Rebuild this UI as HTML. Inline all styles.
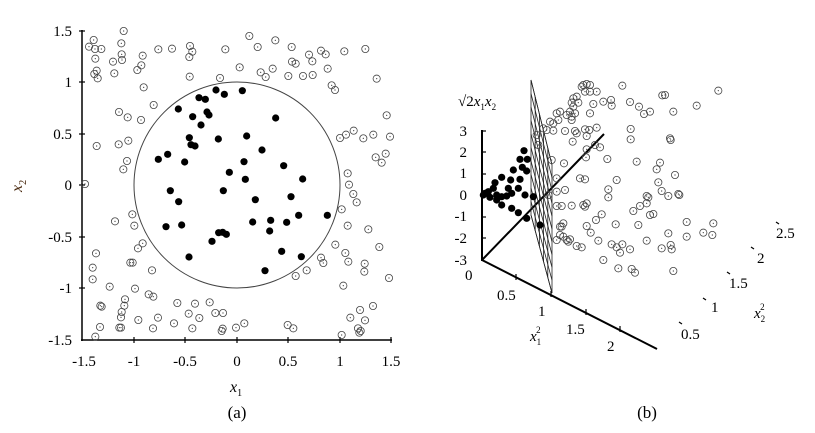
<!DOCTYPE html>
<html><head><meta charset="utf-8"><style>
body{margin:0;background:#fff}
svg{display:block;font-family:"Liberation Serif",serif}
</style></head><body>
<svg id="s" width="815" height="433" viewBox="0 0 815 433" xmlns="http://www.w3.org/2000/svg">
<g stroke="#000" stroke-width="1.5" fill="none">
<line x1="82" y1="30" x2="82" y2="341"/>
<line x1="81" y1="340" x2="392" y2="340"/>
</g>
<g stroke="#000" stroke-width="1.2">
<line x1="79" y1="31" x2="85" y2="31"/><line x1="79" y1="82" x2="85" y2="82"/><line x1="79" y1="134" x2="85" y2="134"/><line x1="79" y1="185" x2="85" y2="185"/><line x1="79" y1="237" x2="85" y2="237"/><line x1="79" y1="288" x2="85" y2="288"/>
<line x1="134" y1="337" x2="134" y2="343"/><line x1="185" y1="337" x2="185" y2="343"/><line x1="237" y1="337" x2="237" y2="343"/><line x1="288" y1="337" x2="288" y2="343"/><line x1="340" y1="337" x2="340" y2="343"/><line x1="391" y1="337" x2="391" y2="343"/>
</g>
<circle cx="237" cy="185" r="103" fill="none" stroke="#444" stroke-width="1"/>
<g font-size="15" text-anchor="end">
<text x="72" y="36">1.5</text><text x="72" y="87">1</text><text x="72" y="139">0.5</text><text x="72" y="190">0</text><text x="72" y="242">-0.5</text><text x="72" y="293">-1</text><text x="72" y="345">-1.5</text>
</g>
<g font-size="15" text-anchor="middle">
<text x="84" y="366">-1.5</text><text x="134" y="366">-1</text><text x="185" y="366">-0.5</text><text x="237" y="366">0</text><text x="288" y="366">0.5</text><text x="340" y="366">1</text><text x="391" y="366">1.5</text>
<text x="237" y="418" font-size="17">(a)</text>
<text x="647" y="418" font-size="17">(b)</text>
</g>
<text x="230" y="392" font-size="16" font-style="italic">x<tspan font-size="10" font-style="normal" dy="4">1</tspan></text>
<text transform="translate(22,192) rotate(-90)" font-size="16" font-style="italic" fill="#4a2a10">x<tspan font-size="10" font-style="normal" dy="4">2</tspan></text>

<!-- panel b axes -->
<g stroke="#000" stroke-width="2" fill="none">
<line x1="482" y1="130" x2="482" y2="261"/>
<line x1="482" y1="260" x2="604" y2="134"/>
<line x1="482" y1="260" x2="657" y2="349"/>
</g>
<g stroke="#000" stroke-width="1.2">
<line x1="482" y1="131" x2="486" y2="131"/><line x1="482" y1="152" x2="486" y2="152"/><line x1="482" y1="174" x2="486" y2="174"/><line x1="482" y1="195" x2="486" y2="195"/><line x1="482" y1="217" x2="486" y2="217"/><line x1="482" y1="238" x2="486" y2="238"/>
<line x1="516" y1="274" x2="516" y2="280"/><line x1="551" y1="291" x2="551" y2="297"/><line x1="586" y1="309" x2="586" y2="315"/><line x1="620" y1="326" x2="620" y2="332"/>
<line x1="679" y1="322" x2="682" y2="324"/><line x1="703" y1="298" x2="706" y2="300"/><line x1="727" y1="272" x2="730" y2="274"/><line x1="751" y1="247" x2="754" y2="249"/><line x1="776" y1="222" x2="779" y2="224"/>
</g>
<g id="plane" stroke="#222" stroke-width="0.8" fill="none"></g>
<g font-size="15" text-anchor="end">
<text x="467" y="136">3</text><text x="467" y="157">2</text><text x="467" y="178">1</text><text x="467" y="200">0</text><text x="467" y="221">-1</text><text x="467" y="243">-2</text><text x="467" y="265">-3</text>
</g>
<g font-size="15">
<text x="465" y="280">0</text><text x="497" y="300">0.5</text><text x="538" y="316">1</text><text x="566" y="334">1.5</text><text x="607" y="351">2</text>
<text x="681" y="339">0.5</text><text x="711" y="312">1</text><text x="729" y="288">1.5</text><text x="757" y="263">2</text><text x="776" y="238">2.5</text>
</g>
<text x="530" y="341" font-size="15" font-style="italic">x<tspan font-size="9" font-style="normal" dy="4">1</tspan><tspan font-size="9" font-style="normal" dx="-5" dy="-12">2</tspan></text>
<text x="754" y="318" font-size="15" font-style="italic">x<tspan font-size="9" font-style="normal" dy="4">2</tspan><tspan font-size="9" font-style="normal" dx="-5" dy="-12">2</tspan></text>
<text x="458" y="106" font-size="15">√2<tspan font-style="italic">x</tspan><tspan font-size="9" dy="4">1</tspan><tspan font-style="italic" dy="-4">x</tspan><tspan font-size="9" dy="4">2</tspan></text>
<g id="pts"></g>
</svg>
<script>
var NS="http://www.w3.org/2000/svg",g=document.getElementById('pts'),pl=document.getElementById('plane');
function el(n,a,p){var e=document.createElementNS(NS,n);for(var k in a)e.setAttribute(k,a[k]);(p||g).appendChild(e);return e;}
function open(x,y){el('circle',{cx:x,cy:y,r:3.6,fill:'none',stroke:'#444','stroke-width':0.8});el('circle',{cx:x,cy:y,r:0.6,fill:'#333'});}
function fill(x,y){el('circle',{cx:x,cy:y,r:3.6,fill:'#000'});}
var fa=[648,270,727,272,673,283,597,293,616,298,535,327,621,336,627,345,578,350,827,354,603,375,568,413,740,408,655,417,573,434,585,438,786,450,503,463,475,478,554,486,851,497,732,485,688,517,736,538,908,537,511,572,670,572,766,599,536,605,873,590,896,646,982,646,758,666,812,661,860,667,545,675,498,680,656,698,668,697,679,703,809,693,636,724,845,754,567,771,904,770,795,812];
var oa=[371,93,281,120,748,108,826,121,267,140,285,147,304,147,364,130,570,138,577,155,516,146,475,148,676,148,773,141,875,141,963,152,1033,154,1096,147,977,163,927,164,568,171,428,167,365,163,366,180,339,185,286,176,424,196,412,210,290,212,283,222,343,220,293,235,569,230,660,234,719,202,782,217,797,231,818,206,865,228,876,185,887,191,909,228,937,184,938,225,983,206,995,256,1005,270,1130,236,431,262,461,315,357,336,383,352,423,360,290,438,356,433,385,422,381,483,370,508,255,552,1160,346,1020,414,1038,404,1061,392,1090,415,1120,404,1170,410,1127,472,1157,461,1145,488,1043,520,1047,554,1060,582,1070,607,1025,628,1043,677,1105,688,1006,734,1138,741,1036,759,1045,785,1094,791,1093,815,1167,834,963,773,970,789,920,811,887,828,1030,857,397,643,345,664,403,677,428,730,414,745,288,760,278,803,278,838,391,788,398,788,456,811,405,866,329,860,446,883,460,890,375,898,373,917,365,936,363,952,358,983,363,983,301,917,305,920,300,981,286,1010,415,960,532,909,585,911,629,907,566,941,598,954,646,939,669,939,474,953,522,970,577,985,459,985,668,986,708,983,733,970,665,993,863,975,880,985,1025,1005,1051,953,1080,930,1119,918,1074,985,1082,993,1095,961,1078,998];
for(var i=0;i<oa.length;i+=2)open(oa[i]/3,oa[i+1]/3);
for(var i=0;i<fa.length;i+=2)fill(fa[i]/3,fa[i+1]/3);
// plane
for(var k=0;k<=10;k++){var t=k/10;
 el('line',{x1:531,y1:80+135*t,x2:552,y2:165+128*t},pl);}
el('polygon',{points:'531,80 552,165 552,293 531,215'},pl);
for(var k=1;k<5;k++){var x=531+21*k/5;el('line',{x1:x,y1:80+85*k/5,x2:x,y2:215+78*k/5},pl);}
var ob=[490,75,500,72,510,75,485,80,495,95,510,95,530,95,607,77,735,105,727,106,895,92,470,110,460,115,455,128,475,128,460,140,450,155,465,160,455,170,520,132,550,125,573,120,575,137,630,126,657,140,672,162,690,155,760,155,830,137,420,155,410,160,440,165,415,180,455,180,510,160,390,185,400,190,370,205,380,210,400,212,435,213,465,213,470,220,495,208,508,210,530,203,500,228,458,245,632,207,632,238,750,235,752,240,350,225,355,255,525,255,540,262,500,268,498,292,562,297,650,305,720,308,710,328,765,345,395,300,432,310,410,355,480,355,495,358,590,360,715,367,725,393,745,408,775,402,778,405,565,388,565,412,680,408,685,412,410,395,435,390,385,405,410,438,425,438,455,437,490,435,495,440,500,430,640,453,660,438,680,430,690,465,700,462,545,463,528,480,500,498,512,518,430,490,425,500,420,525,430,530,440,540,445,545,450,538,470,558,485,562,535,542,587,493,655,495,745,520,800,486,800,530,850,518,877,525,880,490,680,542,575,553,590,562,600,578,630,568,607,553,725,565,752,555,755,568,550,600,595,625,635,627,645,638,760,633,410,540,420,500];
for(var i=0;i<ob.length;i+=2)open(420+ob[i]/3,60+ob[i+1]/3);
var fb=[312,272,300,298,322,298,307,322,320,333,280,330,245,352,225,368,272,360,300,358,265,385,295,385,195,400,205,395,220,385,230,405,245,410,260,408,275,400,315,405,340,410,245,435,275,445,295,458,320,475,360,495,230,420,210,412,190,405];
for(var i=0;i<fb.length;i+=2)fill(420+fb[i]/3,60+fb[i+1]/3);
</script>
</body></html>
